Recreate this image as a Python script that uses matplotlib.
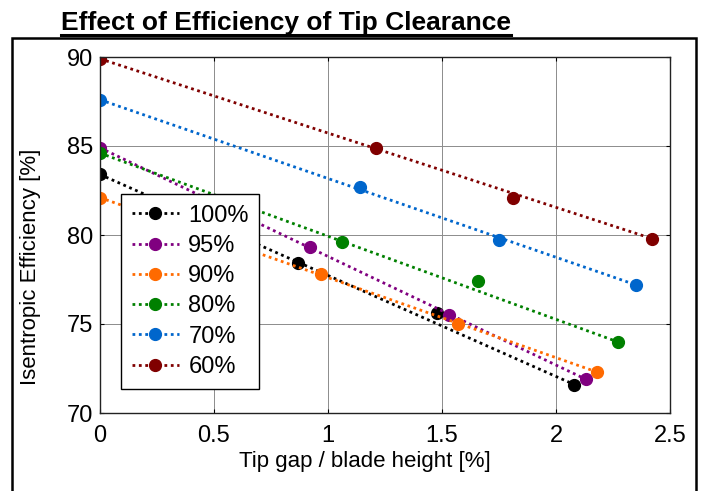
"""
Efecto de la holgura de punta sobre la eficiencia isentropica
"""
import matplotlib
matplotlib.use("Agg")
import matplotlib.pyplot as plt
from matplotlib.lines import Line2D
from matplotlib.patches import Rectangle

plt.rcParams["font.family"] = ["Liberation Sans", "DejaVu Sans"]

# datos
series = ["100%", "95%", "90%", "80%", "70%", "60%"]
colores = ["#000000", "#800080", "#ff6a00", "#008000", "#0066cc", "#800000"]

gap_100 = [0.0, 0.87, 1.48, 2.08]
eff_100 = [83.4, 78.4, 75.6, 71.6]
gap_95 = [0.0, 0.92, 1.53, 2.13]
eff_95 = [84.9, 79.3, 75.5, 71.9]
gap_90 = [0.0, 0.97, 1.57, 2.18]
eff_90 = [82.1, 77.8, 75.0, 72.3]
gap_80 = [0.0, 1.06, 1.66, 2.27]
eff_80 = [84.6, 79.6, 77.4, 74.0]
gap_70 = [0.0, 1.14, 1.75, 2.35]
eff_70 = [87.6, 82.7, 79.7, 77.2]
gap_60 = [0.0, 1.21, 1.81, 2.42]
eff_60 = [89.9, 84.9, 82.1, 79.8]

gaps = [gap_100, gap_95, gap_90, gap_80, gap_70, gap_60]
effs = [eff_100, eff_95, eff_90, eff_80, eff_70, eff_60]

x_ticks = [0, 0.5, 1, 1.5, 2, 2.5]
x_ticklabels = ["0", "0.5", "1", "1.5", "2", "2.5"]
y_ticks = [70, 75, 80, 85, 90]


def graficar():
    fig = plt.figure(figsize=(7.01, 4.91), dpi=100)
    ax = fig.add_axes([100 / 701, 1 - 413 / 491, 570 / 701, 356 / 491])

    for nombre, color, x, y in zip(series, colores, gaps, effs):
        # recta entre el primer y el ultimo punto
        ax.plot([x[0], x[-1]], [y[0], y[-1]], linestyle=(0, (1, 1.3)),
                linewidth=2.0, color=color, marker="o", markersize=8.5,
                label=nombre)
        ax.plot(x[1:-1], y[1:-1], linestyle="none", marker="o",
                markersize=8.5, color=color)

    ax.set_xlim(0, 2.5)
    ax.set_ylim(70, 90)
    ax.set_xticks(x_ticks)
    ax.set_xticklabels(x_ticklabels)
    ax.set_yticks(y_ticks)
    ax.tick_params(direction="in", length=3, width=0.8, labelsize=17,
                   top=True, right=True)
    ax.tick_params(axis="x", pad=9)
    ax.tick_params(axis="y", pad=5)
    ax.grid(True, color="#8c8c8c", linewidth=0.7)
    for sp in ax.spines.values():
        sp.set_linewidth(1.0)
        sp.set_color("#222222")

    ax.set_xlabel("Tip gap / blade height [%]", fontsize=16)
    ax.set_ylabel("Isentropic Efficiency [%]", fontsize=16)
    ax.xaxis.set_label_coords(0.464, -0.106)
    ax.yaxis.set_label_coords(-0.1035, 0.41)

    leg = ax.legend(loc="upper left", bbox_to_anchor=(21 / 570, 1 - 137 / 356),
                    fontsize=17, frameon=True, fancybox=False,
                    edgecolor="black", framealpha=1, borderpad=0.45,
                    labelspacing=0.35, handlelength=2.0, handletextpad=0.4,
                    borderaxespad=0)
    leg.get_frame().set_linewidth(1.0)

    # marco exterior
    fig.patches.append(Rectangle((12 / 701, -0.05), 684 / 701,
                                 1 - 38 / 491 + 0.05,
                                 transform=fig.transFigure, fill=False,
                                 edgecolor="black", linewidth=1.8))

    titulo = fig.text(61 / 701, 1 - 30 / 491,
                      "Effect of Efficiency of Tip Clearance",
                      fontsize=19, fontweight="bold", va="baseline",
                      ha="left")
    fig.canvas.draw()
    bb = titulo.get_window_extent()
    y_sub = 1 - 34.5 / 491
    fig.lines.append(Line2D([bb.x0 / 701, bb.x1 / 701], [y_sub, y_sub],
                           transform=fig.transFigure, color="black",
                           linewidth=2.2))
    return fig


if __name__ == "__main__":
    figura = graficar()
    figura.savefig("out.png", dpi=100)
